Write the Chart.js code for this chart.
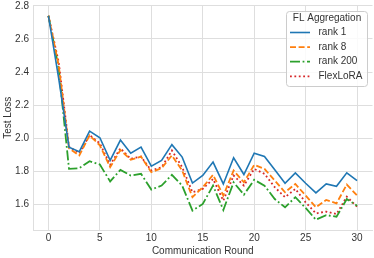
<!DOCTYPE html>
<html>
<head>
<meta charset="utf-8">
<script src="https://cdn.jsdelivr.net/npm/chart.js@4.4.0/dist/chart.umd.min.js"></script>
<style>
  html, body { margin: 0; padding: 0; background: #fff; }
  #chart { display: block; }
</style>
</head>
<body>
<canvas id="chart" width="374" height="258"></canvas>
<script>
/* DATA */
const rounds = [0,1,2,3,4,5,6,7,8,9,10,11,12,13,14,15,16,17,18,19,20,21,22,23,24,25,26,27,28,29,30];
const rank1 = [2.74, 2.36, 1.947, 1.92, 2.044, 2.004, 1.867, 1.99, 1.911, 1.947, 1.832, 1.867, 1.962, 1.887, 1.73, 1.776, 1.857, 1.725, 1.883, 1.782, 1.911, 1.891, 1.81, 1.729, 1.792, 1.729, 1.671, 1.725, 1.711, 1.792, 1.745];
const rank8 = [2.74, 2.44, 1.94, 1.897, 2.018, 1.958, 1.826, 1.93, 1.871, 1.89, 1.796, 1.82, 1.897, 1.806, 1.645, 1.705, 1.78, 1.655, 1.806, 1.735, 1.84, 1.816, 1.745, 1.675, 1.725, 1.655, 1.584, 1.628, 1.608, 1.721, 1.655];
const rank200 = [2.74, 2.42, 1.816, 1.82, 1.862, 1.842, 1.74, 1.81, 1.776, 1.786, 1.691, 1.715, 1.78, 1.715, 1.564, 1.604, 1.715, 1.568, 1.735, 1.66, 1.75, 1.715, 1.634, 1.584, 1.645, 1.58, 1.509, 1.537, 1.527, 1.634, 1.594];
const flexLora = [2.74, 2.46, 1.95, 1.91, 2.02, 1.97, 1.84, 1.94, 1.877, 1.89, 1.806, 1.826, 1.927, 1.826, 1.675, 1.695, 1.755, 1.624, 1.776, 1.715, 1.816, 1.786, 1.705, 1.645, 1.695, 1.614, 1.547, 1.558, 1.543, 1.648, 1.588];
const xTicks = [0, 5, 10, 15, 20, 25, 30];
const yTicks = [1.6, 1.8, 2.0, 2.2, 2.4, 2.6, 2.8];
const legendTitle = "FL Aggregation";

/* STYLE */
const FONT = "'Liberation Sans', Arial, sans-serif";
const TEXT = "#333333";
const GRID = "#dedede";

Chart.defaults.font.family = FONT;
Chart.defaults.font.size = 10;
Chart.defaults.color = TEXT;

const toPoints = ys => ys.map((y, i) => ({ x: rounds[i], y: y }));

/* LEGEND BOX (matplotlib style, inside the axes) */
const boxLegend = {
    id: "boxLegend",
    afterDatasetsDraw(chart) {
        const ctx = chart.ctx;
        const x = 286, y = 11, w = 81, h = 75, r = 3;
        ctx.save();
        ctx.beginPath();
        ctx.roundRect(x + 0.5, y + 0.5, w, h, r);
        ctx.fillStyle = "rgba(255,255,255,0.85)";
        ctx.fill();
        ctx.strokeStyle = "#cccccc";
        ctx.lineWidth = 1;
        ctx.stroke();

        ctx.font = "10px " + FONT;
        ctx.fillStyle = TEXT;
        ctx.textBaseline = "middle";
        ctx.textAlign = "center";
        ctx.fillText(legendTitle, x + w / 2 + 0.5, 18.5);

        ctx.textAlign = "left";
        chart.data.datasets.forEach((ds, i) => {
            const cy = 32.5 + i * 14.6;
            ctx.beginPath();
            ctx.setLineDash(ds.borderDash || []);
            ctx.strokeStyle = ds.borderColor;
            ctx.lineWidth = ds.borderWidth;
            ctx.moveTo(290, cy);
            ctx.lineTo(310, cy);
            ctx.stroke();
            ctx.setLineDash([]);
            ctx.fillText(ds.label, 318.5, cy);
        });
        ctx.restore();
    }
};

/* CHART */
new Chart(document.getElementById("chart"), {
    type: "line",
    data: {
        datasets: [
            { label: "rank 1", data: toPoints(rank1), borderColor: "#1f77b4", borderWidth: 1.6, borderDash: [] },
            { label: "rank 8", data: toPoints(rank8), borderColor: "#ff7f0e", borderWidth: 1.8, borderDash: [6, 2.6] },
            { label: "rank 200", data: toPoints(rank200), borderColor: "#2ca02c", borderWidth: 1.8, borderDash: [10, 2.6, 1.8, 2.6] },
            { label: "FlexLoRA", data: toPoints(flexLora), borderColor: "#d62728", borderWidth: 1.8, borderDash: [1.8, 2.6] }
        ]
    },
    options: {
        responsive: false,
        animation: false,
        devicePixelRatio: 1,
        layout: { padding: { top: 5.5, right: 1.5, left: 0, bottom: 0 } },
        elements: {
            point: { radius: 0, hoverRadius: 0 },
            line: { tension: 0, borderCapStyle: "butt", borderJoinStyle: "miter" }
        },
        plugins: {
            legend: { display: false },
            tooltip: { enabled: false }
        },
        scales: {
            x: {
                type: "linear",
                min: -1.5,
                max: 31.5,
                afterBuildTicks: s => { s.ticks = xTicks.map(v => ({ value: v })); },
                afterFit: s => { s.height = 28; s.paddingLeft = 0; s.paddingRight = 0; },
                grid: { color: GRID, lineWidth: 1, drawTicks: false },
                border: { display: true, color: GRID, width: 1 },
                ticks: { padding: 2, autoSkip: false, maxRotation: 0, callback: v => String(v) },
                title: { display: true, text: "Communication Round", padding: { top: 0, bottom: 1 } }
            },
            y: {
                type: "linear",
                min: 1.447,
                max: 2.802,
                afterBuildTicks: s => { s.ticks = yTicks.map(v => ({ value: v })); },
                afterFit: s => { s.width = 33; s.paddingTop = 0; s.paddingBottom = 0; },
                grid: { color: GRID, lineWidth: 1, drawTicks: false },
                border: { display: true, color: GRID, width: 1 },
                ticks: { padding: 4, callback: v => v.toFixed(1) },
                title: { display: true, text: "Test Loss", padding: { top: 2, bottom: 0 } }
            }
        }
    },
    plugins: [boxLegend]
});
</script>
</body>
</html>
